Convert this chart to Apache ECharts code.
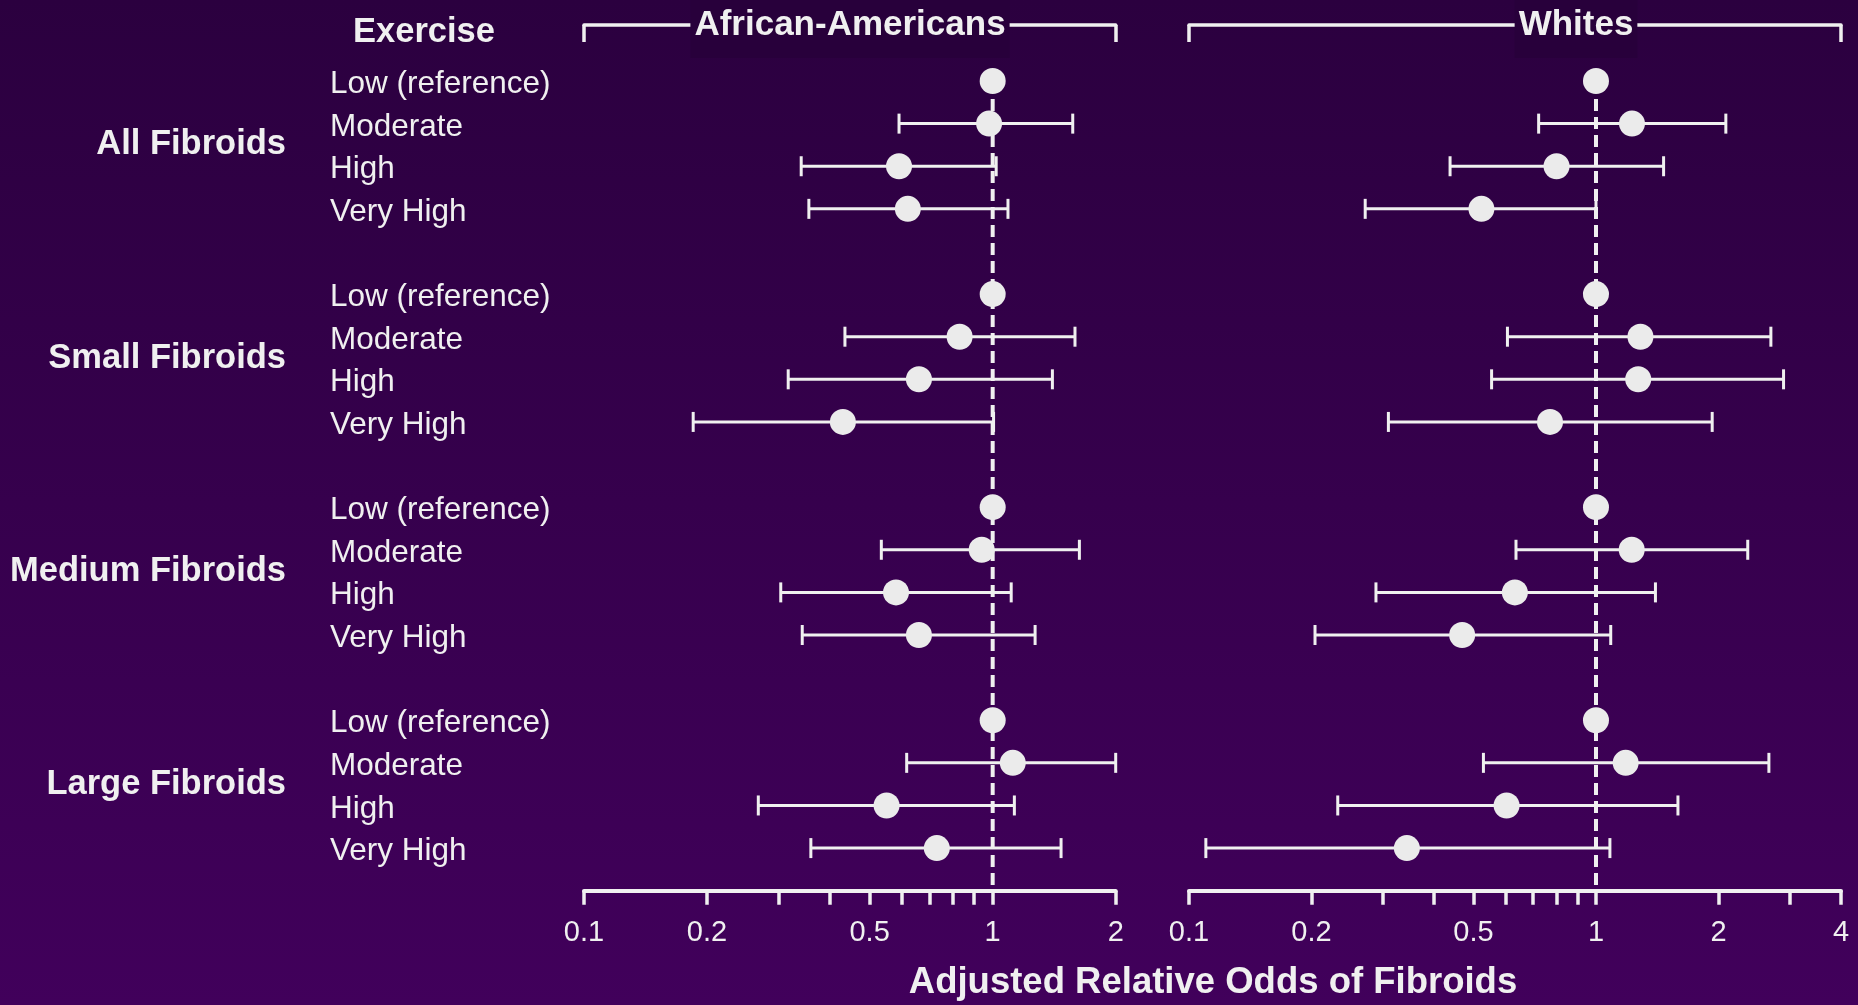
<!DOCTYPE html>
<html>
<head>
<meta charset="utf-8">
<title>Exercise and fibroids</title>
<script src="https://cdn.jsdelivr.net/npm/echarts@6/dist/echarts.min.js"></script>
<style>
  html, body { margin: 0; padding: 0; width: 100%; height: 100%; overflow: hidden; }
  #chart { width: 1858px; height: 1005px; }
</style>
</head>
<body>
<div id="chart"></div>
<script>
// Fibroid size groups and exercise levels (rows within each group)
const groups = ['All Fibroids', 'Small Fibroids', 'Medium Fibroids', 'Large Fibroids'];
const levels = ['Low (reference)', 'Moderate', 'High', 'Very High'];

// African-Americans: adjusted odds ratio and 95% CI, one inner array per group
const aaOdds  = [[1, 0.98, 0.59, 0.62], [1, 0.83, 0.66, 0.43], [1, 0.94, 0.58, 0.66], [1, 1.12, 0.55, 0.73]];
const aaLower = [[null, 0.59, 0.34, 0.355], [null, 0.435, 0.316, 0.185], [null, 0.534, 0.303, 0.342], [null, 0.616, 0.267, 0.359]];
const aaUpper = [[null, 1.57, 1.02, 1.09], [null, 1.59, 1.40, 1.005], [null, 1.63, 1.11, 1.27], [null, 2.0, 1.13, 1.47]];

// Whites: adjusted odds ratio and 95% CI
const whOdds  = [[1, 1.226, 0.80, 0.523], [1, 1.286, 1.27, 0.771], [1, 1.224, 0.632, 0.469], [1, 1.183, 0.603, 0.343]];
const whLower = [[null, 0.723, 0.438, 0.271], [null, 0.606, 0.554, 0.309], [null, 0.636, 0.288, 0.204], [null, 0.529, 0.232, 0.110]];
const whUpper = [[null, 2.085, 1.466, 1.0], [null, 2.69, 2.89, 1.93], [null, 2.36, 1.40, 1.087], [null, 2.66, 1.59, 1.082]];

// Log-scale axis ticks and labels
const aaTicks  = [0.1, 0.2, 0.3, 0.4, 0.5, 0.6, 0.7, 0.8, 0.9, 1, 2];
const whTicks  = [0.1, 0.2, 0.3, 0.4, 0.5, 0.6, 0.7, 0.8, 0.9, 1, 2, 3, 4];
const aaLabels = [0.1, 0.2, 0.5, 1, 2];
const whLabels = [0.1, 0.2, 0.5, 1, 2, 4];
const referenceOdds = 1;

const FONT = '"Liberation Sans", Arial, Helvetica, sans-serif';
const INK = '#f0f0f0';
const DOT = '#ebebeb';

// Each group takes 4 rows followed by one empty spacer row
const ROWS_PER_GROUP = levels.length + 1;
const rowPos = (g, r) => g * ROWS_PER_GROUP + r;
const rowValues = [];
groups.forEach((_, g) => levels.forEach((_, r) => rowValues.push(rowPos(g, r))));
const groupCentres = groups.map((_, g) => rowPos(g, (levels.length - 1) / 2));
const Y_MIN = -0.5, Y_MAX = 19;
// Row captions sit a touch below their row's centre line
const ROW_LABEL_DROP = 0.08;

const lg = Math.log10;
const fmtOdds = v => String(Number(Math.pow(10, v).toPrecision(3)));

function buildPoints(odds) {
  const out = [];
  odds.forEach((row, g) => row.forEach((v, r) => out.push([lg(v), rowPos(g, r)])));
  return out;
}
function buildBars(lower, upper) {
  const out = [];
  lower.forEach((row, g) => row.forEach((lo, r) => {
    if (lo != null) out.push([lg(lo), lg(upper[g][r]), rowPos(g, r)]);
  }));
  return out;
}

function bottomAxis(gridIndex, maxOdds, ticks, labels) {
  return {
    type: 'value', gridIndex, position: 'bottom',
    min: lg(0.1), max: lg(maxOdds),
    axisLine: { show: true, onZero: false, lineStyle: { color: INK, width: 4 } },
    axisTick: { show: true, length: 14, lineStyle: { color: INK, width: 3.5 }, customValues: ticks.map(lg) },
    axisLabel: { show: true, color: INK, fontSize: 29, lineHeight: 40, verticalAlign: 'top', fontFamily: FONT, margin: 22,
                 customValues: labels.map(lg), formatter: fmtOdds },
    splitLine: { show: false }
  };
}
function bracketAxis(gridIndex, maxOdds) {
  return {
    type: 'value', gridIndex, position: 'top', offset: 34.7,
    min: lg(0.1), max: lg(maxOdds),
    axisLine: { show: true, onZero: false, lineStyle: { color: INK, width: 3.5 } },
    axisTick: { show: true, inside: true, length: 17, lineStyle: { color: INK, width: 3.5 },
                customValues: [lg(0.1), lg(maxOdds)] },
    axisLabel: { show: false },
    splitLine: { show: false }
  };
}

const errorBarSeries = (xi, yi, data) => ({
  type: 'custom', xAxisIndex: xi, yAxisIndex: yi, data, z: 2,
  encode: { x: [0, 1], y: 2 },
  renderItem(params, api) {
    const y = api.value(2);
    const a = api.coord([api.value(0), y]);
    const b = api.coord([api.value(1), y]);
    const cap = 10;
    const style = { stroke: INK, lineWidth: 3 };
    return {
      type: 'group',
      children: [
        { type: 'line', shape: { x1: a[0], y1: a[1], x2: b[0], y2: b[1] }, style },
        { type: 'line', shape: { x1: a[0], y1: a[1] - cap, x2: a[0], y2: a[1] + cap }, style },
        { type: 'line', shape: { x1: b[0], y1: b[1] - cap, x2: b[0], y2: b[1] + cap }, style }
      ]
    };
  }
});
const pointSeries = (xi, yi, data) => ({
  type: 'scatter', xAxisIndex: xi, yAxisIndex: yi, data, z: 3,
  symbol: 'circle', symbolSize: 26, itemStyle: { color: DOT, opacity: 1 }
});
const refLineSeries = (xi, yi) => ({
  type: 'line', xAxisIndex: xi, yAxisIndex: yi, z: 1, silent: true,
  data: [[lg(referenceOdds), rowValues[0]], [lg(referenceOdds), Y_MAX]],
  symbol: 'none', lineStyle: { color: INK, width: 4, type: [12, 6] }
});

const hiddenY = (gridIndex) => ({
  type: 'value', gridIndex, position: 'left', inverse: true, min: Y_MIN, max: Y_MAX,
  axisLine: { show: false, onZero: false }, axisTick: { show: false }, splitLine: { show: false }, axisLabel: { show: false }
});

const chart = echarts.init(document.getElementById('chart'), null, { renderer: 'canvas' });
chart.setOption({
  animation: false,
  backgroundColor: {
    type: 'linear', x: 0, y: 0, x2: 0, y2: 1,
    colorStops: [{ offset: 0, color: '#2b003f' }, { offset: 1, color: '#41005b' }]
  },
  textStyle: { fontFamily: FONT },
  grid: [
    { left: 584, right: 742.3, top: 59.7, bottom: 114.3, containLabel: false },
    { left: 1189, right: 17, top: 59.7, bottom: 114.3, containLabel: false }
  ],
  xAxis: [
    bottomAxis(0, 2, aaTicks, aaLabels),
    bracketAxis(0, 2),
    bottomAxis(1, 4, whTicks, whLabels),
    bracketAxis(1, 4)
  ],
  yAxis: [
    Object.assign(hiddenY(0), {
      axisLabel: {
        show: true, color: INK, fontSize: 31.5, fontFamily: FONT, align: 'left', margin: 254,
        customValues: rowValues.map(v => v + ROW_LABEL_DROP),
        formatter: v => levels[Math.round(v) % ROWS_PER_GROUP]
      }
    }),
    Object.assign(hiddenY(0), {
      axisLabel: {
        show: true, color: INK, fontSize: 34.5, fontWeight: 'bold', fontFamily: FONT, align: 'right', margin: 298,
        customValues: groupCentres,
        formatter: v => groups[Math.floor(v / ROWS_PER_GROUP)]
      }
    }),
    hiddenY(1)
  ],
  graphic: [
    { type: 'text', x: 424, y: 32, style: { text: 'Exercise', fill: INK, font: 'bold 34.5px ' + FONT, align: 'center', verticalAlign: 'middle' } },
    { type: 'text', x: 850, y: 0, z: 10, style: { text: 'African-Americans', fill: INK, font: 'bold 35px ' + FONT,
      align: 'center', verticalAlign: 'top', lineHeight: 35, padding: [8, 4, 15, 4], backgroundColor: '#28003b' } },
    { type: 'text', x: 1576, y: 0, z: 10, style: { text: 'Whites', fill: INK, font: 'bold 35px ' + FONT,
      align: 'center', verticalAlign: 'top', lineHeight: 35, padding: [8, 4, 15, 4], backgroundColor: '#28003b' } },
    { type: 'text', x: 1213, y: 983, style: { text: 'Adjusted Relative Odds of Fibroids', fill: INK,
      font: 'bold 36.5px ' + FONT, align: 'center', verticalAlign: 'middle' } }
  ],
  series: [
    refLineSeries(0, 0),
    errorBarSeries(0, 0, buildBars(aaLower, aaUpper)),
    pointSeries(0, 0, buildPoints(aaOdds)),
    refLineSeries(2, 2),
    errorBarSeries(2, 2, buildBars(whLower, whUpper)),
    pointSeries(2, 2, buildPoints(whOdds))
  ]
});
</script>
</body>
</html>
